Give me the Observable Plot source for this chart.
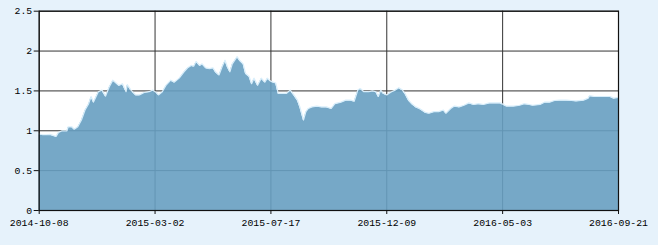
<!DOCTYPE html>
<html><head><meta charset="utf-8">
<script src="https://cdn.jsdelivr.net/npm/d3@7"></script>
<script src="https://cdn.jsdelivr.net/npm/@observablehq/plot@0.6"></script>
<style>
html,body{margin:0;padding:0;background:#e6f2fb;}
svg{display:block;}
</style></head><body><div id="chart"></div>
<script>
// trading-day index (0 = 2014-10-08, 480 = 2016-09-21) and net value
const day = [0,3,6,9,12,14,16,19,23,24,27,29,32,35,38,41,43,45,49,52,55,58,61,63,66,69,72,73,76,80,83,87,91,94,97,99,102,105,109,112,116,120,123,126,128,130,133,135,138,141,144,146,149,152,154,156,158,160,164,166,169,171,174,176,178,181,184,187,189,192,196,198,201,205,208,211,214,216,219,221,223,226,230,234,238,242,245,250,254,258,261,264,266,269,273,276,279,281,283,285,288,290,292,295,298,301,303,306,309,312,315,317,320,323,327,331,335,337,341,344,348,352,356,360,364,368,373,377,382,387,393,398,402,406,409,415,419,423,427,431,437,441,445,451,455,456,460,465,469,473,476,480];
const nav = [0.95,0.94,0.94,0.945,0.93,0.92,0.97,0.99,0.99,1.04,1.04,1.01,1.04,1.125,1.25,1.33,1.42,1.35,1.48,1.50,1.425,1.54,1.625,1.60,1.56,1.58,1.48,1.57,1.50,1.44,1.44,1.47,1.48,1.50,1.47,1.44,1.48,1.56,1.625,1.60,1.65,1.73,1.78,1.81,1.80,1.86,1.81,1.83,1.78,1.77,1.78,1.73,1.69,1.81,1.875,1.79,1.73,1.83,1.92,1.875,1.83,1.71,1.67,1.58,1.65,1.56,1.65,1.60,1.65,1.61,1.59,1.46,1.46,1.46,1.50,1.44,1.375,1.29,1.125,1.23,1.27,1.29,1.30,1.29,1.29,1.27,1.33,1.35,1.375,1.375,1.36,1.50,1.52,1.48,1.48,1.49,1.48,1.42,1.50,1.46,1.44,1.46,1.48,1.50,1.53,1.50,1.46,1.375,1.325,1.29,1.27,1.25,1.22,1.21,1.23,1.23,1.25,1.21,1.27,1.30,1.29,1.31,1.34,1.32,1.33,1.32,1.34,1.34,1.34,1.30,1.30,1.31,1.33,1.32,1.31,1.32,1.35,1.35,1.37,1.375,1.375,1.37,1.365,1.375,1.40,1.43,1.42,1.42,1.42,1.42,1.40,1.41];
const xTickDays = [0,96,192,288,384,480];
const xTickLabels = ["2014-10-08","2015-03-02","2015-07-17","2015-12-09","2016-05-03","2016-09-21"];
const yTicks = [0,0.5,1,1.5,2,2.5];
const yTickLabels = ["0","0.5","1","1.5","2","2.5"];

const data = day.map((d,i)=>({day:d, nav:nav[i]}));

const chart = Plot.plot({
  width:658, height:245,
  marginLeft:38.7, marginRight:40, marginTop:10.7, marginBottom:35,
  style:{background:"transparent", fontFamily:"'Liberation Mono', 'DejaVu Sans Mono', monospace", fontSize:"9.8px", color:"#000"},
  x:{domain:[0,480], label:null},
  y:{domain:[0,2.5], label:null},
  marks:[
    Plot.frame({fill:"white", stroke:null}),
    Plot.gridX(xTickDays, {stroke:"#333", strokeOpacity:1}),
    Plot.gridY(yTicks, {stroke:"#333", strokeOpacity:1}),
    Plot.areaY(data, {x:"day", y:"nav", fill:"#679fc1", fillOpacity:0.9}),
    Plot.lineY(data, {x:"day", y:"nav", stroke:"#d8eefb", strokeWidth:1.2, dy:-0.8}),
    Plot.frame({stroke:"#111", strokeWidth:1.2}),
    Plot.axisX(xTickDays, {tickSize:4, tickPadding:5, stroke:"#111", tickFormat:d=>xTickLabels[xTickDays.indexOf(d)]}),
    Plot.axisY(yTicks, {tickSize:5, tickPadding:2, stroke:"#111", tickFormat:d=>yTickLabels[yTicks.indexOf(d)]})
  ]
});
document.getElementById("chart").appendChild(chart);
</script>
</body></html>
